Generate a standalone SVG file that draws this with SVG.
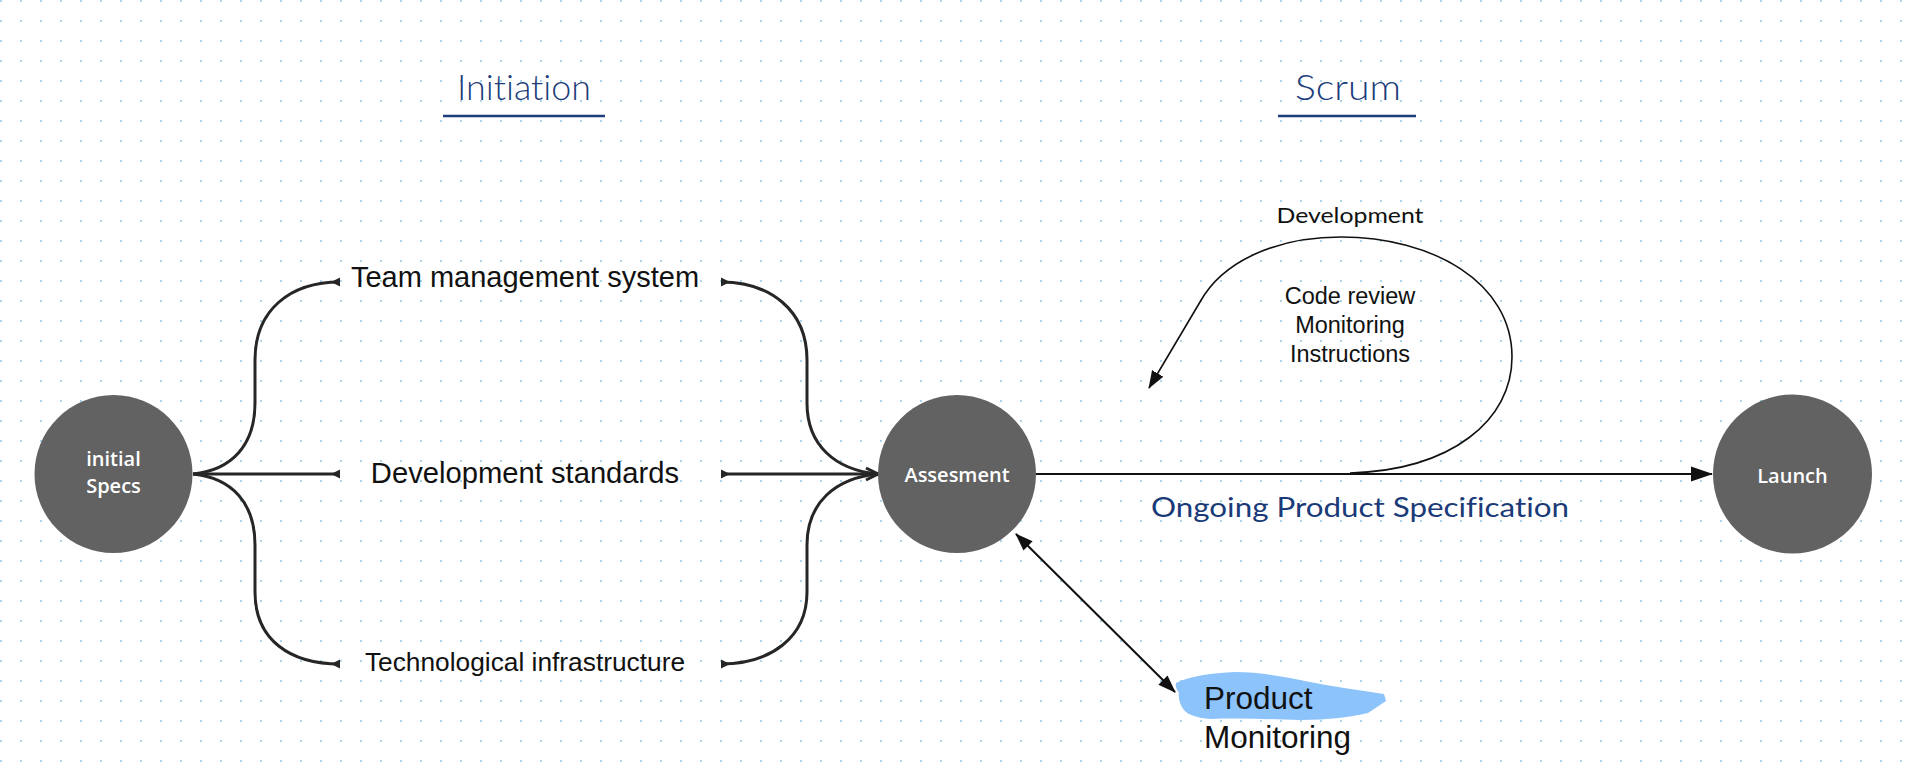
<svg xmlns="http://www.w3.org/2000/svg" width="1920" height="779" viewBox="0 0 1920 779">
  <style>
    text { font-variant-ligatures: none; font-feature-settings: "liga" 0, "clig" 0; }
    .node { fill: #626262; }
    .nlabel { font-family: "Open Sans", "Liberation Sans", sans-serif; font-weight: 600; font-size: 20px; fill: #ffffff; text-anchor: middle; }
    .title { font-family: Lato, "Open Sans", sans-serif; font-weight: 300; font-size: 36px; fill: #1c3d7a; }
    .uline { stroke: #1c3d7a; stroke-width: 2.5; }
    .branch { fill: none; stroke: #262626; stroke-width: 3; }
    .blabel { font-family: "Liberation Sans", Arial, sans-serif; fill: #111111; text-anchor: middle; }
    .thin { fill: none; stroke: #111111; stroke-width: 2; }
    .loop { fill: none; stroke: #111111; stroke-width: 1.6; }
  </style>
  <defs>
    <pattern id="dots" width="20" height="20" patternUnits="userSpaceOnUse">
      <rect x="0" y="0" width="2" height="2" fill="#abd6e6"/>
    </pattern>
    <marker id="tick" viewBox="-10 -6 12 12" refX="0" refY="0" markerWidth="12" markerHeight="12" orient="auto-start-reverse" markerUnits="userSpaceOnUse">
      <path d="M0,-4.5 L0,4.5 L-9,0 z" fill="#262626"/>
    </marker>
    <marker id="converge" viewBox="-14 -8 16 16" refX="0" refY="0" markerWidth="16" markerHeight="16" orient="auto" markerUnits="userSpaceOnUse">
      <path d="M-12,-6 L0,0 L-12,6" fill="none" stroke="#262626" stroke-width="3"/>
    </marker>
    <marker id="arrowL" viewBox="0 0 22 16" refX="21" refY="8" markerWidth="22" markerHeight="16" orient="auto" markerUnits="userSpaceOnUse">
      <path d="M0,0.5 L22,8 L0,15.5 z" fill="#111111"/>
    </marker>
    <marker id="arrowS" viewBox="0 0 18 14" refX="17" refY="7" markerWidth="18" markerHeight="14" orient="auto-start-reverse" markerUnits="userSpaceOnUse">
      <path d="M0,0.5 L18,7 L0,13.5 z" fill="#111111"/>
    </marker>
  </defs>

  <rect x="0" y="0" width="1920" height="779" fill="#ffffff"/>
  <rect x="0" y="0" width="1920" height="779" fill="url(#dots)"/>

  <g id="title-initiation">
    <text class="title" x="457" y="100" textLength="134" lengthAdjust="spacingAndGlyphs">Initiation</text>
    <line class="uline" x1="443" y1="116" x2="605" y2="116"/>
  </g>
  <g id="title-scrum">
    <text class="title" x="1295" y="100" textLength="106" lengthAdjust="spacingAndGlyphs">Scrum</text>
    <line class="uline" x1="1278" y1="116" x2="1416" y2="116"/>
  </g>

  <g id="connectors">
    <!-- initial specs to branches -->
    <path class="branch" d="M193,474 C232,470 255,445 255,403 L255,360 C255,310 290,282 340,282" marker-end="url(#tick)"/>
    <path class="branch" d="M193,474 L340,474" marker-end="url(#tick)"/>
    <path class="branch" d="M193,474 C232,478 255,503 255,545 L255,592 C255,640 290,664 340,664" marker-end="url(#tick)"/>
    <!-- branches to assessment -->
    <path class="branch" d="M721,282 C770,282 807,310 807,360 L807,403 C807,445 835,470 878,474" marker-start="url(#tick)"/>
    <path class="branch" d="M721,474 L878,474" marker-start="url(#tick)" marker-end="url(#converge)"/>
    <path class="branch" d="M721,664 C770,664 807,638 807,592 L807,545 C807,503 835,478 878,474" marker-start="url(#tick)"/>
    <!-- assessment to launch -->
    <path class="thin" d="M1036,474 L1712,474" marker-end="url(#arrowL)"/>
    <!-- development loop -->
    <path class="loop" d="M1350,473 C1452,470 1512,420 1512,357 C1512,282 1432,237 1341,237 C1275,237 1222,262 1200,302 L1149,388" marker-end="url(#arrowS)"/>
    <!-- assessment to product monitoring -->
    <path class="thin" d="M1016,534 L1175,692" marker-start="url(#arrowS)" marker-end="url(#arrowS)"/>
  </g>

  <g id="node-initial-specs">
    <circle class="node" cx="113.5" cy="474" r="79"/>
    <text class="nlabel" x="113.5" y="466">initial</text>
    <text class="nlabel" x="113.5" y="493">Specs</text>
  </g>

  <g id="node-team-management">
    <text class="blabel" x="525" y="287" font-size="29">Team management system</text>
  </g>
  <g id="node-development-standards">
    <text class="blabel" x="525" y="483" font-size="29.2">Development standards</text>
  </g>
  <g id="node-tech-infrastructure">
    <text class="blabel" x="525" y="671" font-size="26.3">Technological infrastructure</text>
  </g>

  <g id="node-assesment">
    <circle class="node" cx="957" cy="474" r="79"/>
    <text class="nlabel" x="957" y="482">Assesment</text>
  </g>

  <g id="node-launch">
    <circle class="node" cx="1792.5" cy="474" r="79.5"/>
    <text class="nlabel" x="1792.5" y="483">Launch</text>
  </g>

  <g id="label-development">
    <text x="1350" y="223" font-family="Lato, 'Open Sans', sans-serif" font-weight="400" font-size="21" fill="#111111" text-anchor="middle" textLength="147" lengthAdjust="spacingAndGlyphs">Development</text>
  </g>
  <g id="label-dev-items">
    <text class="blabel" x="1350" y="304" font-size="23.5">Code review</text>
    <text class="blabel" x="1350" y="333" font-size="23.5">Monitoring</text>
    <text class="blabel" x="1350" y="362" font-size="23.5">Instructions</text>
  </g>

  <g id="label-ongoing">
    <text x="1151" y="517" font-family="Lato, 'Open Sans', sans-serif" font-size="26" fill="#1a3a78" textLength="418" lengthAdjust="spacingAndGlyphs">Ongoing Product Specification</text>
  </g>

  <g id="node-product-monitoring">
    <path d="M1176,683 C1190,676 1212,673 1235,672 C1262,672 1290,678 1310,682 C1335,687 1360,690 1384,694 L1386,701 C1380,705 1374,709 1368,713 C1350,717 1330,720 1300,720 C1270,719 1240,718 1210,719 C1198,718 1188,715 1184,710 C1180,705 1178,698 1179,693 C1177,690 1175,687 1176,683 z" fill="#8cc3fb"/>
    <text class="blabel" x="1204" y="709" font-size="31.5" style="text-anchor:start">Product</text>
    <text class="blabel" x="1204" y="748" font-size="31.5" style="text-anchor:start">Monitoring</text>
  </g>
</svg>
